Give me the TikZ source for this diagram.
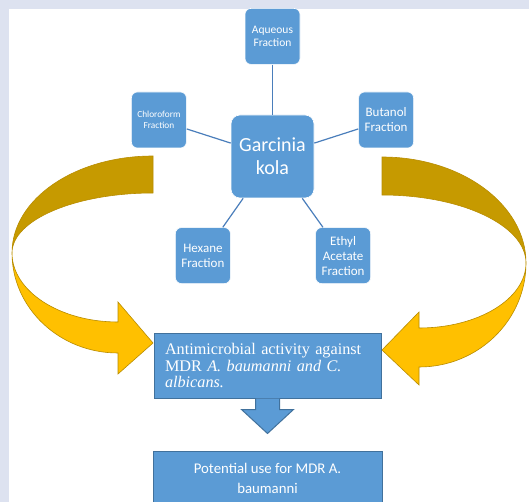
\documentclass[tikz,border=0pt]{standalone}
\usepackage{fontspec}
\setmainfont{Carlito}
\newfontfamily\timesfont{Liberation Serif}
\usepackage{xcolor}
\usepackage{tikz}
\usetikzlibrary{positioning}

\definecolor{boxblue}{HTML}{5B9BD5}
\definecolor{edgeblue}{HTML}{41719C}
\definecolor{linkblue}{HTML}{4A7EBB}
\definecolor{backgold}{HTML}{C69A00}
\definecolor{frontgold}{HTML}{FFC000}
\definecolor{edgegold}{HTML}{B88C00}
\definecolor{pagebg}{HTML}{DDE2F0}

\begin{document}
\begin{tikzpicture}[
  x=1pt, y=-1pt,
  node distance=30pt and 40pt,
  frac/.style={draw=white,line width=0.6pt,fill=boxblue,rounded corners=6pt,
               minimum width=55pt,minimum height=56pt,inner sep=1pt,
               text=white,align=center,font=\fontsize{13}{15}\selectfont},
  hub/.style={frac,minimum width=83pt,minimum height=83pt,rounded corners=9pt,
              font=\fontsize{20}{23}\selectfont},
  panel/.style={draw=edgeblue,line width=1pt,fill=boxblue,text=white},
  link/.style={draw=linkblue,line width=1.2pt},
  backband/.style={fill=backgold,draw=edgegold,line width=0.6pt},
  frontband/.style={fill=frontgold,draw=edgegold,line width=0.6pt},
  downarr/.style={fill=boxblue,draw=edgeblue,line width=1pt}
]
\useasboundingbox (0,0) rectangle (529,502);
\clip (0,0) rectangle (529,502);
\fill[pagebg] (0,0) rectangle (529,502);
\fill[white] (9,9) rectangle (529,502);

% curved arrows, left and right
\filldraw[backband] (153,156) .. controls (75,156) and (12,199) .. (12,253)
  .. controls (12,220) and (75,193) .. (153,193) -- cycle;
\filldraw[frontband] (12,253) .. controls (12,308) and (59.5,353) .. (118,353)
  -- (118,374) -- (153,343) -- (118,302) -- (118,322)
  .. controls (59.5,322) and (12,291) .. (12,253) -- cycle;
\filldraw[backband] (382,157) .. controls (461.5,157) and (526,204.5) .. (526,263)
  .. controls (526,225.4) and (461.5,195) .. (382,195) -- cycle;
\filldraw[frontband] (526,263) .. controls (526,320.4) and (478.1,367) .. (419,367)
  -- (419,385) -- (382,350) -- (419,312) -- (419,328)
  .. controls (478.1,328) and (526,298.9) .. (526,263) -- cycle;

\node[hub] (garc) at (272.5,156.5) {Garcinia\\kola};
\node[frac,above=50pt of garc,font=\fontsize{11.5}{13.5}\selectfont] (aq) {Aqueous\\Fraction};
\node[frac,left=44pt of garc,yshift=36.5pt,font=\fontsize{9.3}{10.7}\selectfont] (chl) {Chloroform\\Fraction};
\node[frac,right=44pt of garc,yshift=36.5pt] (but) {Butanol\\Fraction};
\node[frac,below left=29pt and 0pt of garc] (hex) {Hexane\\Fraction};
\node[frac,below right=29pt and 1pt of garc] (eth) {Ethyl\\Acetate\\Fraction};
\draw[link] (aq) -- (garc);
\draw[link] (chl) -- (garc);
\draw[link] (but) -- (garc);
\draw[link] (hex) -- (garc);
\draw[link] (eth) -- (garc);

\node[panel,minimum width=227pt,minimum height=65pt,text width=205pt,align=left,
      font=\timesfont\fontsize{16.2}{16.3}\selectfont] (anti) at (267.5,365.5)
  {Antimicrobial activity against\\MDR \textit{A. baumanni and C.}\\\textit{albicans.}};
\node[panel,minimum width=229pt,minimum height=54pt,align=center,
      font=\fontsize{14.8}{20}\selectfont,below=52pt of anti] (pot)
  {Potential use for MDR A.\\baumanni};
\filldraw[downarr] ([xshift=-12pt]anti.south) -- ++(0,11) -- ++(-14,0)
  -- ++(26,24) -- ++(26,-24) -- ++(-14,0) -- ++(0,-11);
\end{tikzpicture}
\end{document}
